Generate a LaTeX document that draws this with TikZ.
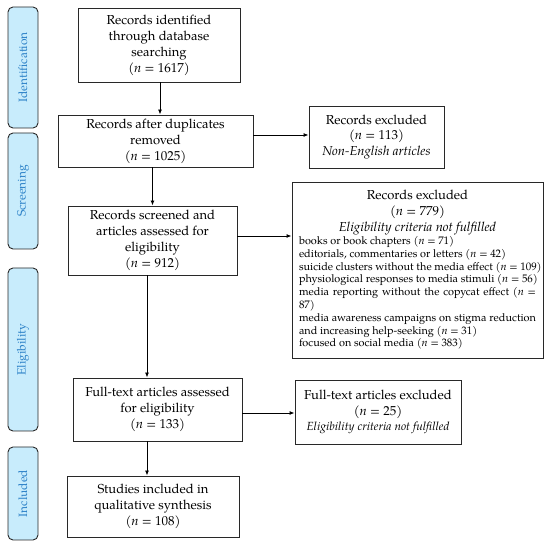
\documentclass[tikz,border=0pt]{standalone}
\usepackage{fontspec}
\setmainfont{TeX Gyre Pagella}
\usetikzlibrary{arrows.meta,calc}
\definecolor{sidefill}{RGB}{200,236,252}
\definecolor{sidetext}{RGB}{45,130,200}
\definecolor{linec}{RGB}{40,40,40}
\newcommand{\exline}[1]{\makebox[\linewidth][l]{#1}}
\tikzset{
  box/.style={draw=linec, line width=0.9pt, align=center, inner sep=2pt,
    font=\fontsize{13}{16}\selectfont, text=black},
  side/.style={draw=linec, line width=0.9pt, fill=sidefill, rounded corners=5pt,
    minimum width=30pt},
  sidelab/.style={rotate=90, text=sidetext, font=\fontsize{12}{14}\selectfont},
  arr/.style={draw=black, line width=0.9pt, -{Latex[length=5pt,width=4pt]}}
}
\begin{document}
\begin{tikzpicture}[x=1pt,y=-1pt]
\useasboundingbox (0,0) rectangle (550,545);
% side labels
\node[side, minimum height=121pt] (sid) at (23,67.5) {};
\node[sidelab] (tid) at (sid.center) {Identification};
\node[side, minimum height=116pt] (ssc) at (23,191) {};
\node[sidelab] (tsc) at (ssc.center) {Screening};
\node[side, minimum height=163pt] (sel) at (23,349.5) {};
\node[sidelab] (tel) at (sel.center) {Eligibility};
\node[side, minimum height=93pt] (sin) at (23,493.5) {};
\node[sidelab] (tin) at (sin.center) {Included};
% main boxes
\node[box, minimum width=162pt, minimum height=74pt] (b1) at (159,45)
  {Records identified\\through database\\searching\\(\textit{n} = 1617)};
\node[box, minimum width=195pt, minimum height=52pt] (b2) at (155.5,141)
  {Records after duplicates\\removed\\(\textit{n} = 1025)};
\node[box, minimum width=169pt, minimum height=69pt] (b3) at (152.5,240.5)
  {Records screened and\\articles assessed for\\eligibility\\(\textit{n} = 912)};
\node[box, minimum width=169pt, minimum height=63pt] (b4) at (157.5,409.5)
  {Full-text articles assessed\\for eligibility\\(\textit{n} = 133)};
\node[box, minimum width=172pt, minimum height=61pt] (b5) at (153,506.5)
  {Studies included in\\qualitative synthesis\\(\textit{n} = 108)};
% exclusion boxes
\node[box, minimum width=135pt, minimum height=62pt, font=\fontsize{13}{15.5}\selectfont] (e1) at (376.5,137)
  {Records excluded\\(\textit{n} = 113)\\\textit{Non-English articles}};
\node[box, minimum width=251pt, minimum height=176pt, align=left] (e2) at (417.5,270)
  {\parbox{237pt}{\centering Records excluded\\(\textit{n} = 779)\\\textit{Eligibility criteria not fulfilled}\par
   \raggedright\fontsize{10.9}{12.8}\selectfont
   \exline{books or book chapters (\textit{n} = 71)}\\
   \exline{editorials, commentaries or letters (\textit{n} = 42)}\\
   \exline{suicide clusters without the media effect (\textit{n} = 109)}\\
   \exline{physiological responses to media stimuli (\textit{n} = 56)}\\
   \makebox[\linewidth][s]{media reporting without the copycat effect (\textit{n} =}\\
   \exline{87)}\\
   \makebox[\linewidth][s]{media awareness campaigns on stigma reduction}\\
   \exline{and increasing help-seeking (\textit{n} = 31)}\\
   \exline{focused on social media (\textit{n} = 383)}}};
\node[box, minimum width=166pt, minimum height=64pt, font=\fontsize{13}{15.5}\selectfont] (e3) at (378,412)
  {Full-text articles excluded\\(\textit{n} = 25)\\{\fontsize{11.8}{14}\selectfont\textit{Eligibility criteria not fulfilled}}};
% arrows
\draw[arr] ([xshift=1pt]b1.south) -- ([xshift=1pt]b1.south |- b2.north);
\draw[arr] (b3.north |- b2.south) -- (b3.north);
\draw[arr] ([xshift=-5.5pt]b3.south) -- ([xshift=-5.5pt]b3.south |- b4.north);
\draw[arr] ([xshift=-5.5pt]b3.south |- b4.south) -- ([xshift=-5.5pt]b3.south |- b5.north);
\draw[arr] ([yshift=6pt]b2.east) -- ([yshift=6pt]b2.east -| e1.west);
\draw[arr] ([yshift=4.5pt]b3.east) -- ([yshift=4.5pt]b3.east -| e2.west);
\draw[arr] ([yshift=-3.5pt]b4.east) -- ([yshift=-3.5pt]b4.east -| e3.west);
\end{tikzpicture}
\end{document}
